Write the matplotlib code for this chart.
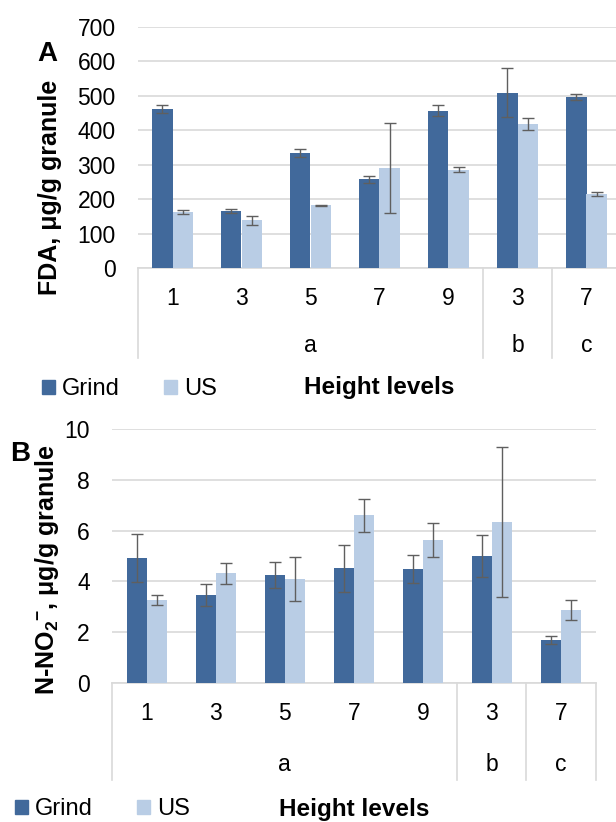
import matplotlib
matplotlib.use('Agg')
import matplotlib.pyplot as plt
from matplotlib.patches import Patch
import numpy as np

plt.rcParams['font.family'] = ['Liberation Sans', 'DejaVu Sans']
plt.rcParams['mathtext.fontset'] = 'custom'
plt.rcParams['mathtext.rm'] = 'Liberation Sans'
plt.rcParams['mathtext.bf'] = 'Liberation Sans:bold'

# data
heights = ['1', '3', '5', '7', '9', '3', '7']
groups = ['a', 'a', 'a', 'a', 'a', 'b', 'c']

fda_grind = [462, 166, 334, 258, 457, 509, 497]
fda_grind_err = [11, 5, 13, 10, 15, 71, 9]
fda_us = [163, 139, 182, 291, 285, 418, 215]
fda_us_err = [6, 13, 1, 130, 7, 17, 7]

no2_grind = [4.92, 3.48, 4.25, 4.51, 4.48, 5.00, 1.69]
no2_grind_err = [0.95, 0.43, 0.52, 0.94, 0.55, 0.84, 0.17]
no2_us = [3.26, 4.32, 4.09, 6.60, 5.63, 6.34, 2.87]
no2_us_err = [0.20, 0.41, 0.86, 0.64, 0.68, 2.96, 0.39]

dark = '#41699B'
light = '#B9CDE5'
grid_c = '#D9D9D9'
err_c = '#5F5F5F'
W, H = 616, 822


def px_axes(left, right, top, bottom):
    return [left / W, 1 - bottom / H, (right - left) / W, (bottom - top) / H]


def panel(ax, g, ge, u, ue, ymax, ystep, sep_depth):
    x = np.arange(len(heights))
    bw = 0.29
    ekw = dict(ecolor=err_c, elinewidth=1, capsize=4.5, capthick=1)
    ax.bar(x - bw / 2, g, bw, color=dark, yerr=ge, error_kw=ekw, zorder=3)
    ax.bar(x + bw / 2, u, bw, color=light, yerr=ue, error_kw=ekw, zorder=3)
    ax.set_xlim(-0.5, len(heights) - 0.5)
    ax.set_ylim(0, ymax)
    ax.set_yticks(np.arange(0, ymax + ystep / 2, ystep))
    ax.yaxis.grid(True, color=grid_c, lw=1.2, zorder=0)
    ax.set_axisbelow(True)
    for s in ['left', 'right', 'top']:
        ax.spines[s].set_visible(False)
    ax.spines['bottom'].set_color(grid_c)
    ax.spines['bottom'].set_linewidth(1.2)
    ax.tick_params(axis='y', length=0, pad=16, labelsize=16.5)
    ax.set_xticks(x)
    ax.set_xticklabels(heights)
    ax.tick_params(axis='x', length=0, pad=14, labelsize=16.5)
    tr = ax.get_xaxis_transform()
    # group labels and separators
    names = []
    for gname in groups:
        if gname not in names:
            names.append(gname)
    edges = [-0.5]
    for gname in names:
        idx = [i for i, v in enumerate(groups) if v == gname]
        ax.text(np.mean(idx), -0.32, gname, transform=tr, ha='center',
                va='center', fontsize=16.5)
        edges.append(max(idx) + 0.5)
    for e in edges:
        ax.plot([e, e], [0, -sep_depth], transform=tr, color=grid_c,
                lw=1.2, clip_on=False)
    ax.text(0.5, -0.497, 'Height levels', transform=ax.transAxes,
            ha='center', va='center', fontsize=17.5, fontweight='bold')


fig = plt.figure(figsize=(6.16, 8.22), dpi=100)

axA = fig.add_axes(px_axes(138, 621, 27, 268))
panel(axA, fda_grind, fda_grind_err, fda_us, fda_us_err, 700, 100, 0.373)
axB = fig.add_axes(px_axes(112, 595.5, 429, 683))
panel(axB, no2_grind, no2_grind_err, no2_us, no2_us_err, 10, 2, 0.382)

fig.text(47 / W, 1 - 54 / H, 'A', fontsize=20, fontweight='bold',
         ha='center', va='center')
fig.text(20 / W, 1 - 454 / H, 'B', fontsize=20, fontweight='bold',
         ha='center', va='center')
fig.text(50 / W, 1 - 187 / H, 'FDA, μg/g granule', rotation=90,
         fontsize=18, fontweight='bold', ha='center', va='center')
fig.text(47 / W, 1 - 570 / H,
         r'N-NO$_\mathbf{2}$$^\mathbf{-}$, μg/g granule',
         rotation=90, fontsize=18, fontweight='bold', ha='center', va='center')

handles = [Patch(color=dark, label='Grind'), Patch(color=light, label='US')]
for (lx, ly) in [(42, 389), (15, 809)]:
    fig.legend(handles=handles, loc='center left',
               bbox_to_anchor=(lx / W, 1 - ly / H), ncol=2, frameon=False,
               fontsize=17, handlelength=0.55, handleheight=0.55,
               handletextpad=0.3, columnspacing=1.85, borderpad=0,
               borderaxespad=0)

fig.savefig('out.png', dpi=100)
